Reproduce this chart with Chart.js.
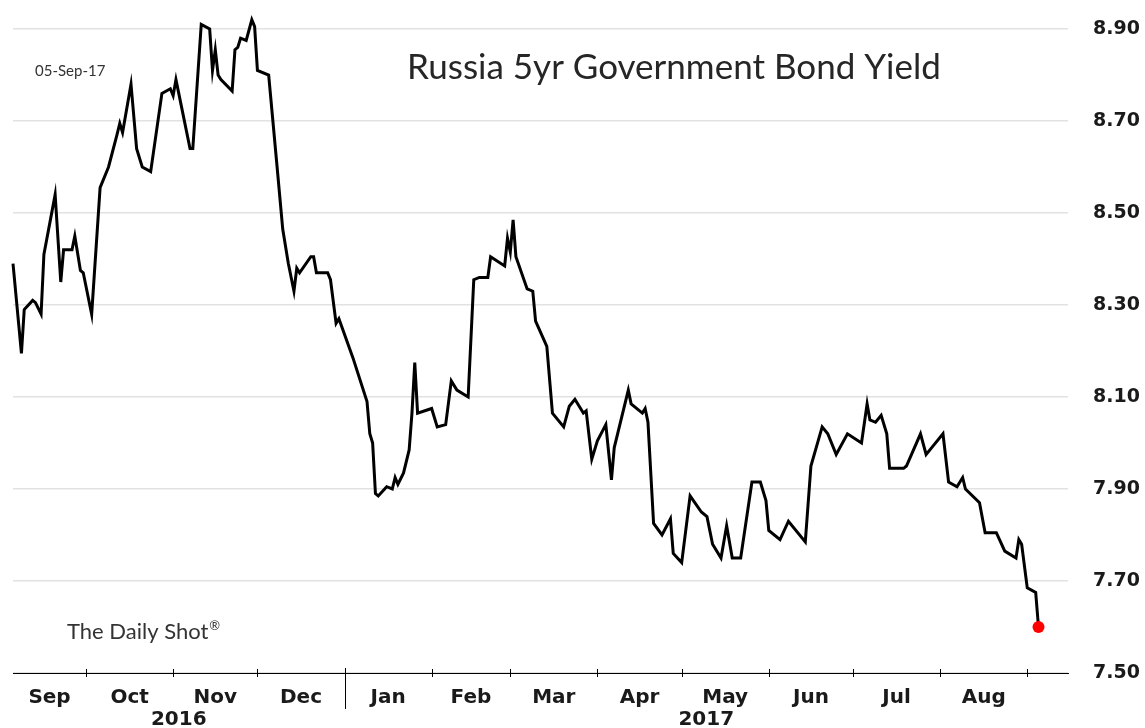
<!DOCTYPE html>
<html>
<head>
<meta charset="utf-8">
<script src="https://cdn.jsdelivr.net/npm/chart.js@4.4.1/dist/chart.umd.min.js"></script>
<style>
    html, body { margin: 0; padding: 0; background: #fff; }
</style>
</head>
<body>
<canvas id="bondChart" width="1145" height="728"></canvas>
<script>
// days counted from 1 Sep 2016
var days = [
    4, 7, 8, 11, 12, 14, 15, 19, 21, 22, 25, 26, 28, 29,
    32, 35, 38, 41, 42, 43, 46, 48, 50, 53, 57, 60,
    61, 62, 63, 67, 68, 71, 74, 75, 76, 77, 78, 82, 83, 84, 85, 87, 89, 90,
    91, 95, 98, 100, 102, 104, 105, 106, 110, 111, 112, 116, 117, 119, 120,
    125, 130, 131, 132, 133, 134, 137, 139, 140, 141, 143, 145, 146, 147, 148,
    153, 155, 158, 160, 162, 166, 168, 170, 173, 174, 179, 180,
    181, 182, 183, 187, 189, 190, 194, 196, 200, 202, 204, 207, 208, 210,
    212, 215, 217, 218, 223, 224, 228, 229, 230, 232, 235, 238, 239,
    242, 245, 249, 251, 253, 256, 258, 260, 263, 267, 270, 272,
    273, 277, 280, 286, 288, 292, 294, 297, 301,
    306, 308, 309, 311, 313, 315, 316, 321, 322, 327, 329, 331,
    335, 337, 340, 342, 343, 348, 350, 354, 357, 361, 362, 363,
    365, 368, 369
];
var yields = [
    8.39, 8.195, 8.29, 8.31, 8.305, 8.28, 8.41, 8.54, 8.35, 8.42, 8.42, 8.45, 8.375, 8.37,
    8.28, 8.555, 8.60, 8.67, 8.695, 8.675, 8.78, 8.64, 8.60, 8.59, 8.76, 8.77,
    8.755, 8.79, 8.76, 8.64, 8.64, 8.91, 8.90, 8.81, 8.855, 8.80, 8.79, 8.765, 8.855, 8.86, 8.88, 8.875, 8.92, 8.905,
    8.81, 8.80, 8.60, 8.465, 8.39, 8.33, 8.38, 8.37, 8.405, 8.405, 8.37, 8.37, 8.355, 8.26, 8.27,
    8.185, 8.09, 8.02, 8.00, 7.89, 7.885, 7.905, 7.90, 7.925, 7.91, 7.935, 7.985, 8.065, 8.175, 8.065,
    8.075, 8.035, 8.04, 8.135, 8.115, 8.10, 8.355, 8.36, 8.36, 8.405, 8.385, 8.445,
    8.415, 8.485, 8.405, 8.335, 8.33, 8.265, 8.21, 8.065, 8.035, 8.08, 8.095, 8.065, 8.07, 7.965,
    8.005, 8.04, 7.92, 7.99, 8.115, 8.085, 8.065, 8.075, 8.045, 7.825, 7.80, 7.835, 7.76,
    7.74, 7.885, 7.85, 7.84, 7.78, 7.75, 7.82, 7.75, 7.75, 7.915, 7.915, 7.875,
    7.81, 7.79, 7.83, 7.785, 7.95, 8.035, 8.02, 7.975, 8.02,
    8.00, 8.085, 8.05, 8.045, 8.06, 8.02, 7.945, 7.945, 7.95, 8.02, 7.975, 7.99,
    8.02, 7.915, 7.905, 7.925, 7.90, 7.87, 7.805, 7.805, 7.765, 7.75, 7.79, 7.78,
    7.685, 7.675, 7.60
];
var monthLabels = ['Sep', 'Oct', 'Nov', 'Dec', 'Jan', 'Feb', 'Mar', 'Apr', 'May', 'Jun', 'Jul', 'Aug'];
var monthStarts = [0, 30, 61, 91, 122, 153, 181, 212, 242, 273, 303, 334, 365];
var yearLabels = ['2016', '2017'];
var yearStarts = [0, 122, 487];

var xMin = 4, xMax = 379.5;
var tickFont = 'DejaVu Sans';

var points = days.map(function (d, i) {
    return { x: d, y: yields[i] };
});

var monthMids = monthLabels.map(function (m, i) {
    var a = Math.max(monthStarts[i], xMin);
    var b = Math.min(monthStarts[i + 1], xMax);
    return (a + b) / 2;
});

var decorations = {
    id: 'decorations',
    afterDraw: function (chart) {
        var c = chart.ctx;
        var x = chart.scales.x;
        var axisY = chart.chartArea.bottom;
        c.save();

        // month boundary ticks and the year separator
        c.strokeStyle = '#000';
        c.lineWidth = 1;
        monthStarts.forEach(function (d) {
            if (d < xMin || d > xMax) return;
            var px = Math.round(x.getPixelForValue(d)) + 0.5;
            var sep = d === yearStarts[1];
            c.beginPath();
            c.moveTo(px, sep ? axisY - 5 : axisY - 4);
            c.lineTo(px, sep ? axisY + 36 : axisY + 4);
            c.stroke();
        });

        // year labels under the months
        c.fillStyle = '#1a1a1a';
        c.font = 'bold 20px ' + tickFont;
        c.textAlign = 'center';
        c.textBaseline = 'middle';
        yearLabels.forEach(function (y, i) {
            var a = x.getPixelForValue(Math.max(yearStarts[i], xMin));
            var b = x.getPixelForValue(Math.min(yearStarts[i + 1], xMax));
            c.fillText(y, (a + b) / 2, 720);
        });

        // title and notes
        c.textAlign = 'left';
        c.fillStyle = '#262626';
        c.font = '35px Lato';
        c.fillText('Russia 5yr Government Bond Yield', 407, 68);
        c.font = '15px Lato';
        c.fillStyle = '#333';
        c.fillText('05-Sep-17', 35, 71);
        c.font = '22px Lato';
        var brand = 'The Daily Shot';
        var brandW = c.measureText(brand).width;
        c.fillText(brand, 67, 632);
        c.font = '13px Lato';
        c.fillText('\u00AE', 68 + brandW, 626);
        c.restore();
    }
};

Chart.defaults.font.family = 'Lato';

var ctx = document.getElementById('bondChart').getContext('2d');
var bondChart = new Chart(ctx, {
    type: 'line',
    data: {
        datasets: [{
            data: points,
            borderColor: '#000',
            borderWidth: 3,
            tension: 0,
            clip: false,
            pointRadius: function (c) { return c.dataIndex === points.length - 1 ? 6 : 0; },
            pointBackgroundColor: '#ff0000',
            pointBorderWidth: 0
        }]
    },
    options: {
        responsive: false,
        animation: false,
        layout: { padding: { top: 29, left: 13, right: 0, bottom: 18 } },
        plugins: {
            legend: { display: false },
            tooltip: { enabled: false }
        },
        scales: {
            x: {
                type: 'linear',
                min: xMin,
                max: xMax,
                afterFit: function (scale) { scale.height = 37; },
                grid: { display: false, drawTicks: false },
                border: { display: true, color: '#000', width: 1 },
                afterBuildTicks: function (scale) {
                    scale.ticks = monthMids.map(function (v) { return { value: v }; });
                },
                ticks: {
                    autoSkip: false,
                    maxRotation: 0,
                    padding: 13,
                    color: '#1a1a1a',
                    font: { family: tickFont, size: 20, weight: 'bold' },
                    callback: function (v, i) { return monthLabels[i]; }
                }
            },
            y: {
                position: 'right',
                min: 7.5,
                max: 8.9,
                afterFit: function (scale) { scale.width = 77; },
                grid: {
                    color: '#e2e2e2',
                    lineWidth: 1.5,
                    drawTicks: true,
                    tickLength: 22,
                    tickColor: 'rgba(0,0,0,0)'
                },
                border: { display: false },
                ticks: {
                    stepSize: 0.2,
                    padding: 3,
                    color: '#1a1a1a',
                    font: { family: tickFont, size: 19, weight: 'bold' },
                    callback: function (v) { return v.toFixed(2); }
                }
            }
        }
    },
    plugins: [decorations]
});
</script>
</body>
</html>
